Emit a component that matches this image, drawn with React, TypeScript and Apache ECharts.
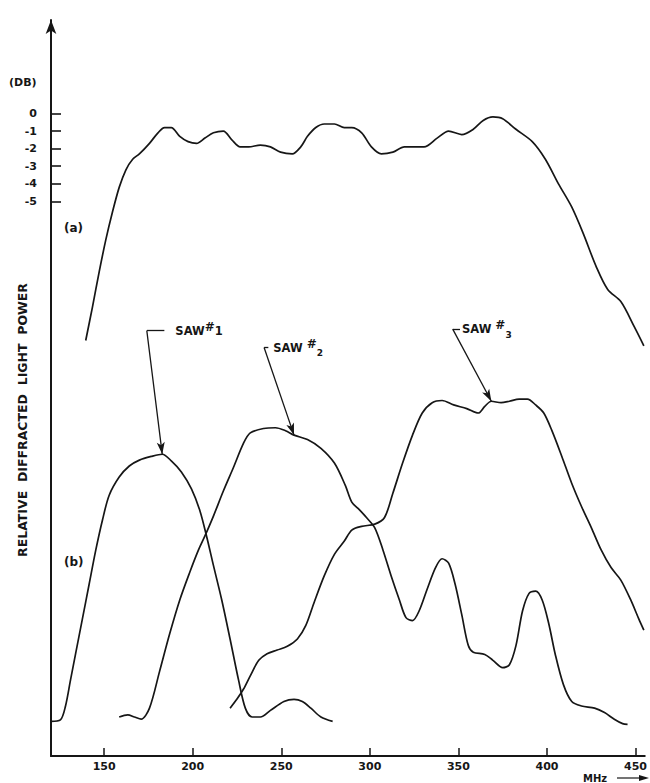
import { useEffect, useRef } from "react";
import * as echarts from "echarts";

// (a) combined response of the three transducers, in dB
const freqA = [139.6, 143.4, 147.2, 150.9, 154.7, 158.5, 162.3, 166.1, 169.9, 175.6, 180.4, 184.1, 187.9, 192.7, 197.4, 202.2, 206.9, 211.7, 217.3, 222.1, 226.8, 231.6, 238.2, 243.9, 249.6, 256.2, 261.0, 264.8, 269.5, 274.3, 280.0, 285.6, 289.8, 295.4, 300.9, 306.5, 313.0, 319.5, 330.6, 338.0, 344.5, 351.9, 358.4, 364.0, 369.5, 375.0, 382.5, 391.7, 399.1, 406.5, 413.9, 420.4, 427.8, 434.3, 441.8, 449.2, 454.7];
const levelA = [-12.9, -11.0, -9.0, -7.2, -5.6, -4.2, -3.2, -2.6, -2.3, -1.7, -1.1, -0.8, -0.8, -1.3, -1.6, -1.7, -1.4, -1.1, -1.0, -1.5, -1.9, -1.9, -1.8, -1.9, -2.2, -2.3, -1.9, -1.3, -0.8, -0.6, -0.6, -0.8, -0.8, -1.1, -1.9, -2.3, -2.2, -1.9, -1.9, -1.4, -1.0, -1.2, -0.9, -0.4, -0.2, -0.3, -0.9, -1.6, -2.6, -4.0, -5.3, -6.8, -8.7, -10.0, -10.7, -12.1, -13.2];

// (b) individual transducer responses, relative diffracted light power
const freq1 = [120, 125.3, 128.2, 131.0, 133.9, 137.7, 141.5, 145.3, 149.1, 152.8, 158.5, 164.2, 169.9, 176.6, 182.8, 187.9, 193.6, 199.3, 204.1, 207.9, 211.7, 216.4, 221.1, 225.9, 229.7, 233.5, 238.2, 243.9, 251.5, 257.2, 261.9, 266.7, 272.4, 279.0];
const saw1 = [4.7, 4.9, 6.8, 10.3, 13.9, 18.6, 23.3, 28.0, 32.1, 35.4, 37.9, 39.4, 40.2, 40.7, 41.0, 40.1, 38.6, 36.3, 33.3, 29.8, 25.9, 21.2, 15.9, 10.3, 6.5, 5.3, 5.3, 6.2, 7.4, 7.7, 7.4, 6.5, 5.3, 4.7];

const freq2 = [158.5, 163.3, 167.1, 170.9, 175.6, 181.3, 187.0, 192.7, 198.4, 203.1, 206.9, 211.7, 217.3, 223.0, 228.7, 232.5, 240.1, 246.7, 252.4, 257.2, 264.8, 272.4, 280.0, 286.1, 289.8, 293.5, 298.1, 302.8, 307.4, 312.0, 316.7, 320.4, 324.1, 327.8, 332.4, 337.1, 340.8, 344.5, 348.2, 351.9, 355.6, 358.4, 364.9, 369.5, 375.0, 378.8, 382.5, 386.2, 389.9, 393.6, 397.3, 401.0, 404.7, 409.3, 414.0, 419.5, 426.9, 432.5, 438.0, 442.7, 445.5];
const saw2 = [5.3, 5.6, 5.3, 5.0, 6.5, 11.5, 16.6, 21.2, 25.0, 27.9, 29.9, 32.6, 36.0, 39.2, 42.5, 43.9, 44.5, 44.6, 44.2, 43.6, 43.0, 41.8, 39.8, 36.8, 34.5, 33.6, 32.4, 31.0, 28.0, 24.5, 21.2, 18.8, 18.4, 19.7, 22.7, 25.6, 26.8, 26.2, 23.3, 19.2, 15.0, 14.1, 13.8, 13.0, 12.0, 12.4, 15.0, 19.7, 22.1, 22.4, 21.2, 18.0, 13.8, 9.7, 7.4, 6.8, 6.5, 5.9, 5.0, 4.4, 4.3];

const freq3 = [221.1, 224.9, 228.7, 232.5, 237.3, 242.0, 247.7, 253.4, 259.1, 263.8, 268.6, 274.3, 280.0, 285.6, 289.8, 295.4, 302.8, 308.3, 313.0, 318.5, 324.1, 329.6, 335.2, 340.8, 347.3, 354.7, 361.2, 364.9, 368.6, 374.1, 378.8, 384.3, 389.0, 393.6, 398.2, 402.8, 408.4, 413.9, 419.5, 425.1, 430.6, 436.2, 441.7, 447.3, 451.9, 454.7];
const saw3 = [6.5, 7.7, 9.1, 10.9, 13.0, 13.9, 14.4, 14.9, 15.9, 17.7, 20.9, 24.5, 27.4, 29.2, 30.7, 31.2, 31.5, 32.4, 35.7, 39.8, 43.6, 46.6, 48.0, 48.3, 47.7, 47.2, 46.6, 47.5, 48.2, 48.0, 48.2, 48.5, 48.5, 47.7, 46.6, 44.2, 40.7, 37.1, 33.9, 31.0, 28.0, 25.6, 23.9, 21.2, 18.6, 17.1];

// axis ticks
const xTicks = [150, 200, 250, 300, 350, 400, 450];
const dbTicks = [0, -1, -2, -3, -4, -5];

// callout anchors: [corner of the leader, end of its short horizontal stroke], index of the pointed sample
const saw1Leader = [[174.1, 57.8], [184.0, 57.8]];
const saw2Leader = [[240.3, 55.5], [242.7, 55.5]];
const saw3Leader = [[346.8, 58.0], [350.9, 58.0]];
const saw1Tip = 14;
const saw2Tip = 19;
const saw3Tip = 28;

const INK = "#161616";
const FONT = "DejaVu Sans";

const zip = (xs: number[], ys: number[]) => xs.map((x, i) => [x, ys[i]]);

const labelRich = {
  t: { fontFamily: FONT, fontSize: 11.5, fontWeight: "bold", color: INK, lineHeight: 20, verticalAlign: "middle" },
  s: { fontFamily: FONT, fontSize: 12, fontWeight: "bold", color: INK, lineHeight: 20, verticalAlign: "top" },
  n: { fontFamily: FONT, fontSize: 11.5, fontWeight: "bold", color: INK, lineHeight: 20, verticalAlign: "middle" },
  sub: { fontFamily: FONT, fontSize: 9, fontWeight: "bold", color: INK, lineHeight: 20, verticalAlign: "bottom" },
};

function callout(leader: number[][], tip: number[], text: string, distance: number) {
  return [
    [
      { coord: leader[0], symbol: "none" },
      {
        coord: leader[1],
        symbol: "none",
        label: { show: true, position: "end", distance, formatter: text, rich: labelRich },
      },
    ],
    [
      { coord: leader[0], symbol: "none" },
      { coord: tip, symbol: "arrow", symbolSize: [6, 12] },
    ],
  ];
}

function sawSeries(name: string, xs: number[], ys: number[], marks: any[]) {
  return {
    type: "line",
    name,
    yAxisIndex: 0,
    data: zip(xs, ys),
    showSymbol: false,
    smooth: 0.3,
    lineStyle: { color: INK, width: 1.7 },
    markLine: {
      silent: true,
      animation: false,
      symbol: ["none", "none"],
      lineStyle: { color: INK, width: 1.3, type: "solid" },
      label: { show: false },
      emphasis: { disabled: true },
      data: marks,
    },
  };
}

export default function App() {
  const ref = useRef<HTMLDivElement>(null);

  useEffect(() => {
    if (!ref.current) return;
    const chart = echarts.init(ref.current, null, { renderer: "svg" });

    const option: any = {
      animation: false,
      backgroundColor: "#ffffff",
      grid: { left: 51, right: 0, top: 20, bottom: 27, containLabel: false },
      xAxis: {
        type: "value",
        min: 120,
        max: 455.2,
        axisLine: { show: true, onZero: false, lineStyle: { color: INK, width: 2 } },
        axisTick: { show: true, inside: true, length: 8, customValues: xTicks, lineStyle: { color: INK, width: 1.5 } },
        axisLabel: { customValues: xTicks, margin: 5, color: INK, fontFamily: FONT, fontSize: 11, fontWeight: "bold" },
        splitLine: { show: false },
      },
      yAxis: [
        {
          type: "value",
          min: 0,
          max: 100,
          axisLine: {
            show: true,
            onZero: false,
            symbol: ["none", "arrow"],
            symbolSize: [8, 14],
            lineStyle: { color: INK, width: 2 },
          },
          axisTick: { show: false },
          axisLabel: { show: false },
          splitLine: { show: false },
        },
        {
          type: "value",
          min: -36.51,
          max: 5.31,
          position: "left",
          axisLine: { show: false },
          axisTick: { show: true, inside: true, length: 10, customValues: dbTicks, lineStyle: { color: INK, width: 1.6 } },
          axisLabel: { customValues: dbTicks, margin: 14, color: INK, fontFamily: FONT, fontSize: 11, fontWeight: "bold" },
          splitLine: { show: false },
        },
      ],
      series: [
        {
          type: "line",
          name: "(a)",
          yAxisIndex: 1,
          data: zip(freqA, levelA),
          showSymbol: false,
          smooth: 0.3,
          lineStyle: { color: INK, width: 1.7 },
        },
        sawSeries("SAW #1", freq1, saw1, callout(saw1Leader, [freq1[saw1Tip], saw1[saw1Tip]], "{t|SAW}{s|#}{n|1}", 11)),
        sawSeries("SAW #2", freq2, saw2, callout(saw2Leader, [freq2[saw2Tip], saw2[saw2Tip]], "{t|SAW }{s|#}{sub|2}", 5)),
        sawSeries("SAW #3", freq3, saw3, callout(saw3Leader, [freq3[saw3Tip], saw3[saw3Tip]], "{t|SAW }{s|#}{sub|3}", 2)),
      ],
      graphic: [
        {
          type: "text",
          x: 22,
          y: 420,
          rotation: Math.PI / 2,
          style: {
            text: "RELATIVE  DIFFRACTED  LIGHT  POWER",
            font: `bold 12.5px "${FONT}"`,
            fill: INK,
            align: "center",
            verticalAlign: "middle",
          },
        },
        {
          type: "text",
          x: 9,
          y: 82,
          style: { text: "(DB)", font: `bold 11px "${FONT}"`, fill: INK, align: "left", verticalAlign: "middle" },
        },
        {
          type: "text",
          x: 64,
          y: 228,
          style: { text: "(a)", font: `bold 12px "${FONT}"`, fill: INK, align: "left", verticalAlign: "middle" },
        },
        {
          type: "text",
          x: 64,
          y: 562,
          style: { text: "(b)", font: `bold 12px "${FONT}"`, fill: INK, align: "left", verticalAlign: "middle" },
        },
        {
          type: "text",
          x: 583,
          y: 778,
          style: { text: "MHz", font: `bold 10px "${FONT}"`, fill: INK, align: "left", verticalAlign: "middle" },
        },
        {
          type: "line",
          shape: { x1: 617, y1: 778, x2: 642, y2: 778 },
          style: { stroke: INK, lineWidth: 1.2 },
        },
        {
          type: "polygon",
          shape: { points: [[639, 775], [649, 778], [639, 781]] },
          style: { fill: INK },
        },
      ],
    };

    chart.setOption(option);
    return () => chart.dispose();
  }, []);

  return (
    <div
      ref={ref}
      style={{ position: "fixed", left: 0, top: 0, width: 650, height: 783, background: "#fff" }}
    />
  );
}
